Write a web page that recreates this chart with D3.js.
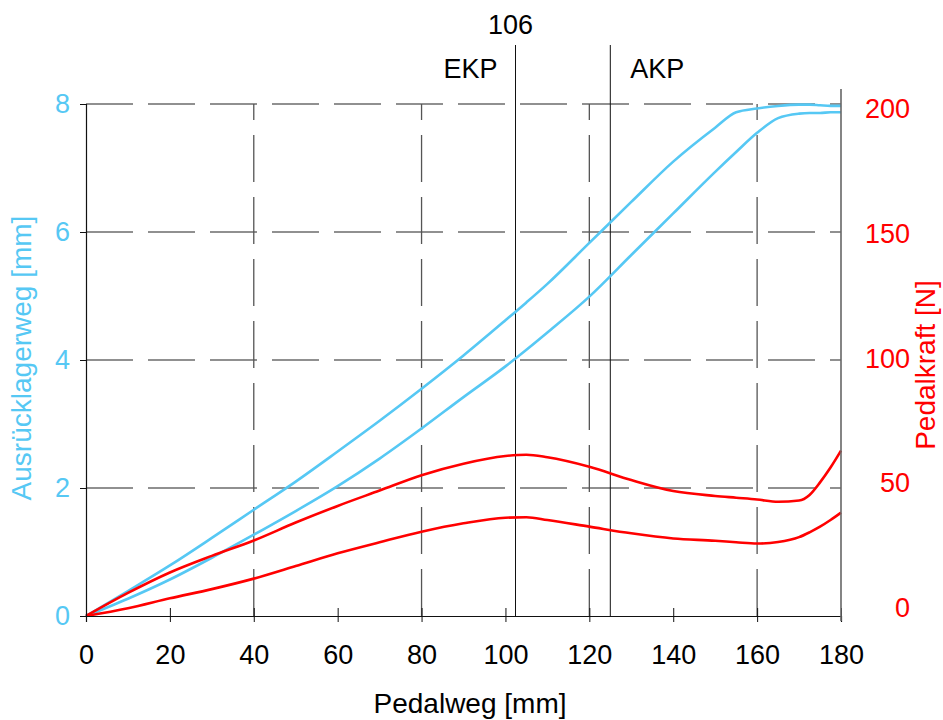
<!DOCTYPE html>
<html>
<head>
<meta charset="utf-8">
<script src="https://cdn.jsdelivr.net/npm/d3@7"></script>
<style>
  body { margin: 0; background: #fff; }
  svg { display: block; font-family: "Liberation Sans", Arial, sans-serif; }
</style>
</head>
<body>
<svg id="chart" width="943" height="720"></svg>
<script>
// Pedalweg [mm] sample points
const pedalweg = [0, 10, 20, 30, 40, 50, 60, 70, 80, 90, 100, 105, 110, 120, 130, 140, 150, 155, 160, 165, 170, 172.5, 175, 177.5, 180];

// Ausrücklagerweg [mm], two branches
const wegOben  = [0, 0.39, 0.79, 1.22, 1.66, 2.1, 2.57, 3.05, 3.55, 4.07, 4.62, 4.9, 5.19, 5.83, 6.47, 7.1, 7.63, 7.87, 7.93, 7.97, 7.99, 7.99, 7.98, 7.97, 7.97];
const wegUnten = [0, 0.27, 0.57, 0.91, 1.27, 1.64, 2.03, 2.46, 2.93, 3.42, 3.9, 4.16, 4.43, 4.99, 5.64, 6.29, 6.94, 7.25, 7.55, 7.78, 7.85, 7.86, 7.86, 7.87, 7.87];

// Pedalkraft [N], two branches
const kraftOben  = [0, 9, 17, 23.5, 29.5, 36.5, 43, 49, 55, 59.5, 62.5, 63, 62, 58.3, 53.1, 48.8, 46.9, 46.2, 45.5, 44.6, 45.1, 47.3, 52.2, 58, 64.6];
const kraftUnten = [0, 3, 6.9, 10.5, 14.6, 19.5, 24.5, 28.8, 32.9, 36.2, 38.4, 38.6, 37.5, 34.9, 32.3, 30.3, 29.4, 28.8, 28.3, 28.9, 30.8, 32.7, 34.9, 37.5, 40.4];

const xTicks = [0, 20, 40, 60, 80, 100, 120, 140, 160, 180];
const yLeftTicks = [0, 2, 4, 6, 8];
const yRightTicks = [0, 50, 100, 150, 200];
const xGrid = [40, 80, 120, 160];
const yGrid = [2, 4, 6, 8];
const marker = [{ x: 102.4, label: "EKP", side: "left" }, { x: 125, label: "AKP", side: "right" }];

const blue = "#56C8F4";
const red = "#FF0000";

const svg = d3.select("#chart");

const x = d3.scaleLinear().domain([0, 180]).range([86, 841]);
const yL = d3.scaleLinear().domain([0, 8]).range([616, 104]);
const yR = d3.scaleLinear().domain([0, 200]).range([616, 104]);
// the right-hand labels sit a bit inside the grid in the original
const yRLabel = d3.scaleLinear().domain([0, 200]).range([608, 109]);

// grid
svg.append("g").selectAll("line")
    .data(yGrid).enter().append("line")
    .attr("x1", x(0)).attr("x2", x(180))
    .attr("y1", d => yL(d)).attr("y2", d => yL(d))
    .attr("stroke", "#222").attr("stroke-width", 1.1)
    .attr("stroke-dasharray", "47,15");

svg.append("g").selectAll("line")
    .data(xGrid).enter().append("line")
    .attr("x1", d => x(d)).attr("x2", d => x(d))
    .attr("y1", yL(0)).attr("y2", yL(8))
    .attr("stroke", "#555").attr("stroke-width", 1.3)
    .attr("stroke-dasharray", "47,15");

// EKP / AKP markers
svg.append("g").selectAll("line")
    .data(marker).enter().append("line")
    .attr("x1", d => x(d.x)).attr("x2", d => x(d.x))
    .attr("y1", 45).attr("y2", yL(0))
    .attr("stroke", "#111").attr("stroke-width", 1);

svg.append("g").selectAll("text")
    .data(marker).enter().append("text")
    .attr("x", d => d.side == "left" ? x(d.x) - 18 : x(d.x) + 20)
    .attr("y", 78)
    .attr("text-anchor", d => d.side == "left" ? "end" : "start")
    .attr("font-size", 27)
    .text(d => d.label);

svg.append("text")
    .attr("x", x(102.4) - 5).attr("y", 34)
    .attr("text-anchor", "middle")
    .attr("font-size", 27)
    .text("106");

// curves
const pts = vals => pedalweg.map((p, i) => [p, vals[i]]);

const lineL = d3.line().x(d => x(d[0])).y(d => yL(d[1])).curve(d3.curveMonotoneX);
const lineR = d3.line().x(d => x(d[0])).y(d => yR(d[1])).curve(d3.curveMonotoneX);

[wegOben, wegUnten].forEach(s => {
    svg.append("path").datum(pts(s))
        .attr("d", lineL)
        .attr("fill", "none").attr("stroke", blue).attr("stroke-width", 2.6);
});
[kraftOben, kraftUnten].forEach(s => {
    svg.append("path").datum(pts(s))
        .attr("d", lineR)
        .attr("fill", "none").attr("stroke", red).attr("stroke-width", 2.6);
});

// bottom axis
let gx = svg.append("g")
    .attr("transform", "translate(0," + yL(0) + ")")
    .call(d3.axisBottom(x).tickValues(xTicks).tickSizeOuter(0).tickSize(6).tickPadding(23));
gx.select(".domain").attr("stroke", "#111").attr("stroke-width", 1.2);
gx.selectAll(".tick line").attr("y1", -8).attr("y2", 6).attr("stroke", "#111");
gx.selectAll("text").attr("font-size", 27).attr("fill", "#000").style("font-family", "inherit");

// left axis
let gl = svg.append("g")
    .attr("transform", "translate(" + x(0) + ",0)")
    .call(d3.axisLeft(yL).tickValues(yLeftTicks).tickSizeOuter(0).tickSize(6).tickPadding(10));
gl.select(".domain").attr("stroke", "#111").attr("stroke-width", 1.2);
gl.selectAll(".tick line").attr("stroke", "#111");
gl.selectAll("text").attr("font-size", 27).attr("fill", blue).style("font-family", "inherit");

// right axis
svg.append("line")
    .attr("x1", x(180)).attr("x2", x(180))
    .attr("y1", 89).attr("y2", 621)
    .attr("stroke", "#666").attr("stroke-width", 1.6);

let gr = svg.append("g")
    .attr("transform", "translate(" + x(180) + ",0)")
    .call(d3.axisRight(yRLabel).tickValues(yRightTicks).tickSize(0));
gr.select(".domain").remove();
gr.selectAll("text")
    .attr("x", 69).attr("text-anchor", "end")
    .attr("font-size", 27).attr("fill", red).style("font-family", "inherit");

// axis titles
svg.append("text")
    .attr("x", 470).attr("y", 713)
    .attr("text-anchor", "middle")
    .attr("font-size", 28)
    .text("Pedalweg [mm]");

svg.append("text")
    .attr("transform", "translate(31,358) rotate(-90)")
    .attr("text-anchor", "middle")
    .attr("font-size", 28)
    .attr("fill", blue)
    .text("Ausrücklagerweg [mm]");

svg.append("text")
    .attr("transform", "translate(935,365) rotate(-90)")
    .attr("text-anchor", "middle")
    .attr("font-size", 28)
    .attr("fill", red)
    .text("Pedalkraft [N]");
</script>
</body>
</html>
